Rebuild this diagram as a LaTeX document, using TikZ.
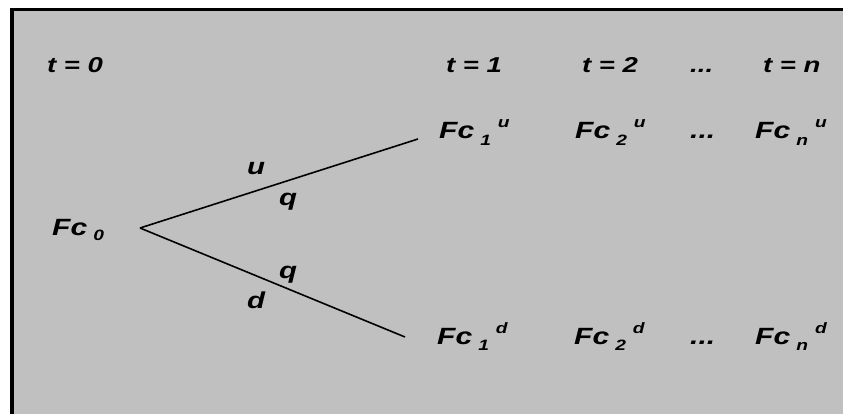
\documentclass[tikz,border=0pt]{standalone}
\usepackage{fontspec}
\setmainfont{Liberation Sans}[FakeStretch=1.28]
\usepackage{tikz}
\definecolor{panelgray}{RGB}{192,192,192}
\newcommand{\subsz}{\fontsize{15}{15}\selectfont}
\newcommand{\fcval}[2]{Fc\hspace{6pt}\raisebox{-6.5pt}{\subsz #1}\hspace{7pt}\raisebox{11pt}{\subsz #2}}

\begin{document}
\begin{tikzpicture}[
    x=1pt, y=-1pt,
    hdr/.style={anchor=base west, inner sep=0pt, font=\fontsize{21.5}{25}\selectfont\bfseries\itshape},
    val/.style={anchor=base west, inner sep=0pt, font=\fontsize{23.5}{27}\selectfont\bfseries\itshape},
    prob/.style={anchor=base west, inner sep=0pt, font=\fontsize{23}{27}\selectfont\bfseries\itshape},
    branch/.style={line width=1.6pt}
]
\useasboundingbox (0,0) rectangle (843,414);
\fill[panelgray] (10,8) rectangle (843,414);
\draw[line width=3.5pt] (11.75,414) -- (11.75,9.75) -- (843,9.75);

% time axis
\node[hdr] (t0) at (47,73) {t = 0};
\node[hdr] (t1) at (446,73) {t = 1};
\node[hdr] (t2) at (582,73) {t = 2};
\node[hdr] (tdots) at (690,73) {...};
\node[hdr] (tn) at (763,73) {t = n};

% values
\node[val] (fc0) at (52,236) {Fc\hspace{6pt}\raisebox{-5pt}{\subsz 0}};
\node[val] (fc1u) at (439,139) {\fcval{1}{u}};
\node[val] (fc2u) at (575,139) {\fcval{2}{u}};
\node[val] (dotsu) at (690,139) {...};
\node[val] (fcnu) at (755,139) {\fcval{n}{u}};
\node[val] (fc1d) at (437,344) {\fcval{1}{d}};
\node[val] (fc2d) at (574,344) {\fcval{2}{d}};
\node[val] (dotsd) at (690,344) {...};
\node[val] (fcnd) at (755,344) {\fcval{n}{d}};

% branches
\coordinate (root) at (140,228);
\coordinate (upend) at (418,139);
\coordinate (dnend) at (405,337);
\draw[branch] (root) -- (upend);
\draw[branch] (root) -- (dnend);

\node[prob] (lu) at (247,175) {u};
\node[prob] (qu) at (279,205) {q};
\node[prob] (qd) at (279,278) {q};
\node[prob] (ld) at (247,308) {d};
\end{tikzpicture}
\end{document}
